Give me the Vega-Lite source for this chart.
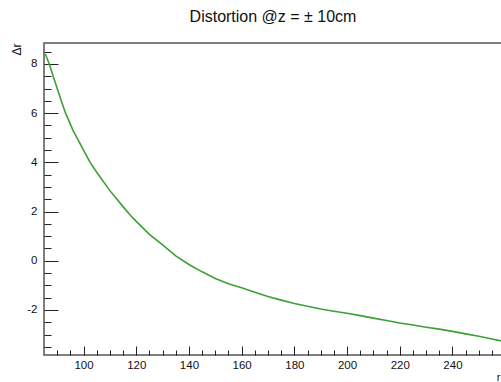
{
  "$schema": "https://vega.github.io/schema/vega-lite/v6.json",
  "autosize": "none",
  "padding": {"left": 44, "top": 43, "right": 0, "bottom": 27},
  "width": 458,
  "height": 312,
  "background": "white",
  "title": {"text": "Distortion @z = ± 10cm", "font": "Liberation Sans", "fontSize": 16, "fontWeight": "normal", "color": "#111", "offset": 18, "anchor": "middle"},
  "config": {"view": {"stroke": "#555", "strokeWidth": 1.5}},
  "data": {"values": [
    {"r": 85.5, "dr": 8.4}, {"r": 87, "dr": 8.0}, {"r": 90, "dr": 7.0}, {"r": 93, "dr": 6.05},
    {"r": 96, "dr": 5.3}, {"r": 100, "dr": 4.5}, {"r": 102.5, "dr": 4.0}, {"r": 105, "dr": 3.6},
    {"r": 110, "dr": 2.85}, {"r": 115, "dr": 2.2}, {"r": 117.6, "dr": 1.87}, {"r": 120, "dr": 1.6},
    {"r": 125, "dr": 1.07}, {"r": 130, "dr": 0.65}, {"r": 135, "dr": 0.2}, {"r": 140, "dr": -0.15},
    {"r": 145, "dr": -0.45}, {"r": 150, "dr": -0.72}, {"r": 155, "dr": -0.93}, {"r": 160, "dr": -1.1},
    {"r": 165, "dr": -1.28}, {"r": 170, "dr": -1.45}, {"r": 175, "dr": -1.6}, {"r": 180, "dr": -1.74},
    {"r": 185, "dr": -1.85}, {"r": 190, "dr": -1.96}, {"r": 195, "dr": -2.05}, {"r": 200, "dr": -2.13},
    {"r": 205, "dr": -2.23}, {"r": 210, "dr": -2.33}, {"r": 215, "dr": -2.43}, {"r": 220, "dr": -2.53},
    {"r": 225, "dr": -2.61}, {"r": 230, "dr": -2.7}, {"r": 235, "dr": -2.78}, {"r": 240, "dr": -2.87},
    {"r": 245, "dr": -2.97}, {"r": 250, "dr": -3.07}, {"r": 255, "dr": -3.18}, {"r": 259, "dr": -3.27}
  ]},
  "mark": {"type": "line", "color": "#3c9f37", "strokeWidth": 1.6, "clip": true},
  "encoding": {
    "x": {"field": "r", "type": "quantitative",
      "scale": {"domain": [85, 258.8], "nice": false, "zero": false},
      "axis": {
        "title": "r", "titleFont": "Liberation Sans", "titleFontSize": 11, "titleFontWeight": "normal", "titleColor": "#111",
        "titleX": 456, "titleAlign": "right", "titlePadding": -3,
        "values": [90,95,100,105,110,115,120,125,130,135,140,145,150,155,160,165,170,175,180,185,190,195,200,205,210,215,220,225,230,235,240,245,250,255],
        "labelExpr": "datum.value % 20 === 0 ? datum.label : ''",
        "tickSize": {"condition": {"test": "datum.value % 20 === 0", "value": -9}, "value": -5},
        "tickColor": "#222", "tickWidth": 1,
        "domain": false,
        "labelFont": "Liberation Sans", "labelFontSize": 11.5, "labelColor": "#111", "labelPadding": 13,
        "labelOverlap": false,
        "grid": false
      }
    },
    "y": {"field": "dr", "type": "quantitative",
      "scale": {"domain": [-3.83, 8.85], "nice": false, "zero": false},
      "axis": {
        "title": "Δr", "titleAnchor": "end", "titleFont": "Liberation Sans", "titleFontSize": 12, "titleFontWeight": "normal", "titleColor": "#111", "titlePadding": 3,
        "values": [-3.5,-3,-2.5,-2,-1.5,-1,-0.5,0,0.5,1,1.5,2,2.5,3,3.5,4,4.5,5,5.5,6,6.5,7,7.5,8,8.5],
        "labelExpr": "datum.value % 2 === 0 ? '' + datum.value : ''",
        "tickSize": {"condition": {"test": "datum.value % 2 === 0", "value": -14}, "value": -7},
        "tickColor": "#222", "tickWidth": 1,
        "domain": false,
        "labelFont": "Liberation Sans", "labelFontSize": 11.5, "labelColor": "#111", "labelPadding": 21,
        "labelOverlap": false,
        "grid": false
      }
    }
  }
}
